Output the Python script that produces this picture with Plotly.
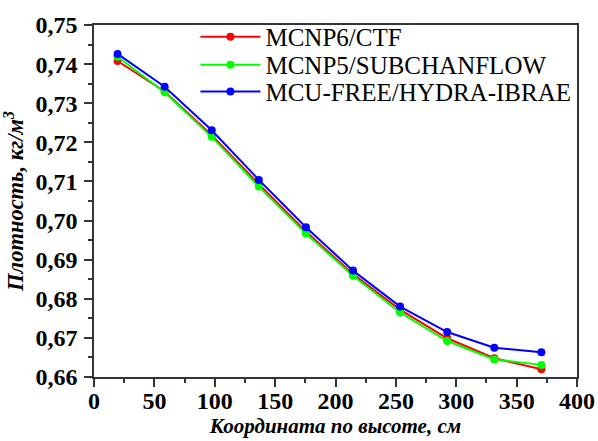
import plotly.graph_objects as go

x_cm = [19.5, 58.5, 97.5, 136.5, 175.5, 214.5, 253.5, 292.5, 331.5, 370.5]
mcnp6_ctf = [0.7408, 0.7330, 0.7218, 0.7093, 0.6972, 0.6863, 0.6772, 0.6699, 0.6648, 0.6620]
mcnp5_subchanflow = [0.7419, 0.7328, 0.7214, 0.7087, 0.6967, 0.6859, 0.6765, 0.6692, 0.6645, 0.6631]
mcu_hydra = [0.7426, 0.7342, 0.7231, 0.7104, 0.6983, 0.6872, 0.6780, 0.6715, 0.6675, 0.6663]

series = [
    ("MCNP6/CTF", mcnp6_ctf, "#FF0000", "legend"),
    ("MCNP5/SUBCHANFLOW", mcnp5_subchanflow, "#00FF00", "legend2"),
    ("MCU-FREE/HYDRA-IBRAE", mcu_hydra, "#0000FF", "legend3"),
]

fig = go.Figure()
for name, ys, col, lg in series:
    fig.add_trace(go.Scatter(
        x=x_cm, y=ys, name=name, mode="lines+markers",
        line=dict(color=col, width=2),
        marker=dict(color=col, size=8),
        legend=lg,
    ))

axis_font = dict(family="Liberation Serif", size=24, color="black", weight="bold")
xtitle_font = dict(family="Liberation Serif", size=21, color="black", weight="bold", style="italic")
ytitle_font = dict(family="Liberation Serif", size=22.5, color="black", weight="bold", style="italic")
leg_font = dict(family="Liberation Serif", size=25, color="black")

def leg(y):
    return dict(x=0.21, y=y, xanchor="left", yanchor="middle",
                bgcolor="rgba(0,0,0,0)", font=leg_font, itemwidth=60,
                borderwidth=0)

fig.update_layout(
    width=598, height=441,
    margin=dict(l=94, r=21, t=25, b=64),
    paper_bgcolor="white", plot_bgcolor="white",
    separators=", ",
    showlegend=True,
    legend=leg(0.966),
    legend2=leg(0.8865),
    legend3=leg(0.8105),
)
fig.update_xaxes(
    range=[0, 400], dtick=50, tick0=0,
    showgrid=False, zeroline=False, automargin=False,
    showline=True, linecolor="#333333", linewidth=1.5, mirror=True,
    ticks="outside", ticklen=8, tickwidth=1.5, tickcolor="#333333",
    minor=dict(dtick=25, ticks="outside", ticklen=4, tickwidth=1.5, tickcolor="#333333"),
    tickfont=axis_font, ticklabelstandoff=-7,
    title=dict(text="Координата по высоте, см", font=xtitle_font, standoff=2),
)
fig.update_yaxes(
    range=[0.66, 0.75], dtick=0.01, tick0=0.66, tickformat=".2f",
    showgrid=False, zeroline=False, automargin=False,
    showline=True, linecolor="#333333", linewidth=1.5, mirror=True,
    ticks="outside", ticklen=8, tickwidth=1.5, tickcolor="#333333",
    minor=dict(dtick=0.005, ticks="outside", ticklen=4, tickwidth=1.5, tickcolor="#333333"),
    tickfont=axis_font, ticklabelstandoff=2,
    title=dict(text="Плотность, кг/м<sup>3</sup>", font=ytitle_font, standoff=6),
)

fig.write_html("out.html", config={"displayModeBar": False},
               post_script="document.body.style.margin='0';")
